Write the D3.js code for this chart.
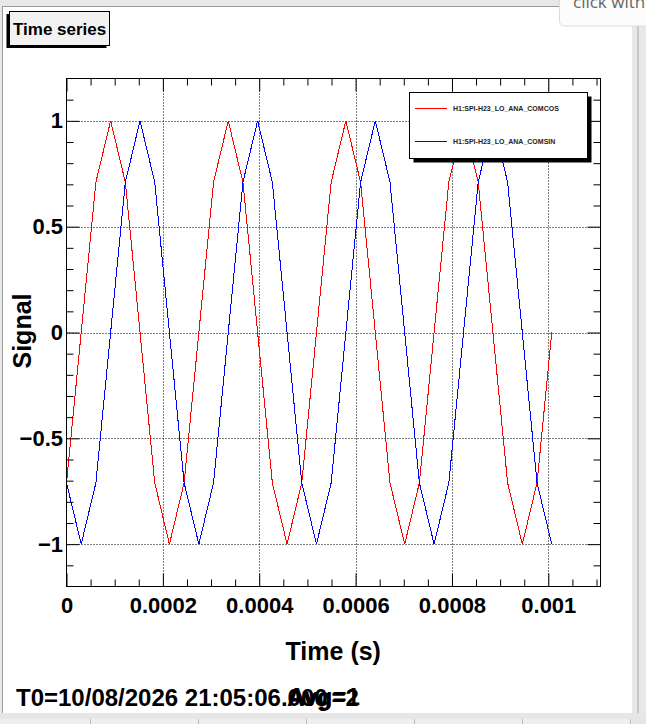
<!DOCTYPE html>
<html>
<head>
<meta charset="utf-8">
<script src="https://cdn.jsdelivr.net/npm/d3@7"></script>
<style>
  html, body { margin: 0; padding: 0; background: #e8e8e8; overflow: hidden; }
  svg { display: block; }
  text { font-family: "Liberation Sans", Arial, Helvetica, sans-serif; font-weight: bold; }
</style>
</head>
<body>
<svg id="canvas" width="646" height="724"></svg>
<script>
// sample times (s)
const times = [
  0, 0.0000305, 0.0000610, 0.0000916, 0.0001221, 0.0001526, 0.0001831, 0.0002136,
  0.0002441, 0.0002747, 0.0003052, 0.0003357, 0.0003662, 0.0003967, 0.0004272, 0.0004578,
  0.0004883, 0.0005188, 0.0005493, 0.0005798, 0.0006104, 0.0006409, 0.0006714, 0.0007019,
  0.0007324, 0.0007629, 0.0007935, 0.0008240, 0.0008545, 0.0008850, 0.0009155, 0.0009460,
  0.0009766, 0.0010071
];
const comcos = [
  -0.71, 0, 0.71, 1, 0.71, 0, -0.71, -1,
  -0.71, 0, 0.71, 1, 0.71, 0, -0.71, -1,
  -0.71, 0, 0.71, 1, 0.71, 0, -0.71, -1,
  -0.71, 0, 0.71, 1, 0.71, 0, -0.71, -1,
  -0.71, 0
];
const comsin = [
  -0.71, -1, -0.71, 0, 0.71, 1, 0.71, 0,
  -0.71, -1, -0.71, 0, 0.71, 1, 0.71, 0,
  -0.71, -1, -0.71, 0, 0.71, 1, 0.71, 0,
  -0.71, -1, -0.71, 0, 0.71, 1, 0.71, 0,
  -0.71, -1
];
const seriesNames  = ["H1:SPI-H23_LO_ANA_COMCOS", "H1:SPI-H23_LO_ANA_COMSIN"];
const seriesColors = ["#ff0000", "#0000ff"];

const xMajor = [0, 0.0002, 0.0004, 0.0006, 0.0008, 0.001];
const xMinor = [0.00005, 0.0001, 0.00015, 0.00025, 0.0003, 0.00035, 0.00045, 0.0005, 0.00055,
                0.00065, 0.0007, 0.00075, 0.00085, 0.0009, 0.00095, 0.00105, 0.0011];
const yMajor = [-1, -0.5, 0, 0.5, 1];
const yMinor = [-1.1, -0.9, -0.8, -0.7, -0.6, -0.4, -0.3, -0.2, -0.1,
                0.1, 0.2, 0.3, 0.4, 0.6, 0.7, 0.8, 0.9, 1.1];

const svg = d3.select("#canvas");

// frame box
const fx0 = 66.5, fx1 = 600.5, fy0 = 78.5, fy1 = 586.5;

const x = d3.scaleLinear().domain([0, 0.0011083]).range([fx0, fx1]);
const y = d3.scaleLinear().domain([-1.2, 1.2]).range([fy1, fy0]);

const fmt = d => d === 0 ? "0" : String(d).replace("-", "\u2212");

// --- window chrome ---
svg.append("rect").attr("x", 3).attr("y", 6.5).attr("width", 629).attr("height", 707).attr("fill", "#fff");
svg.append("line").attr("x1", 2.5).attr("x2", 2.5).attr("y1", 6).attr("y2", 713).attr("stroke", "#9a9a9a");
svg.append("line").attr("x1", 2).attr("x2", 632).attr("y1", 6.5).attr("y2", 6.5).attr("stroke", "#9a9a9a");
svg.append("rect").attr("x", 637).attr("y", 0).attr("width", 2).attr("height", 713).attr("fill", "#c6c6c6");
svg.append("rect").attr("x", 0).attr("y", 713).attr("width", 646).attr("height", 11).attr("fill", "#e6e6e6");
svg.append("rect").attr("x", 0).attr("y", 719).attr("width", 632).attr("height", 5).attr("fill", "#efefef");
svg.selectAll("line.btn")
  .data([90, 198, 306, 414, 522, 630]).enter().append("line")
    .attr("x1", d => d + 0.5).attr("x2", d => d + 0.5)
    .attr("y1", 719).attr("y2", 724)
    .attr("stroke", "#b8b8b8");

// tooltip hint in top-right corner
svg.append("rect")
  .attr("x", 559.5).attr("y", -10).attr("width", 100).attr("height", 36).attr("rx", 5)
  .attr("fill", "#fcfcfc").attr("stroke", "#dcdcdc");
svg.append("text")
  .attr("x", 573).attr("y", 8)
  .style("font-family", "'Open Sans', 'Noto Sans', sans-serif")
  .style("font-weight", "normal").style("font-size", "17px")
  .attr("fill", "#666")
  .text("click with");

// --- title box ---
svg.append("rect").attr("x", 6.5).attr("y", 14).attr("width", 100).attr("height", 34).attr("fill", "#000");
svg.append("rect").attr("x", 9.5).attr("y", 11.5).attr("width", 100).attr("height", 34)
  .attr("fill", "#f2f2f2").attr("stroke", "#000");
svg.append("text").attr("x", 13).attr("y", 35).style("font-size", "17px").text("Time series");

// --- grid ---
const plot = svg.append("g");
plot.selectAll("line.gx")
  .data(xMajor.filter(d => d > 0)).enter().append("line")
    .attr("x1", d => Math.round(x(d)) + 0.5).attr("x2", d => Math.round(x(d)) + 0.5)
    .attr("y1", fy0).attr("y2", fy1)
    .attr("stroke", "#000").attr("stroke-dasharray", "1,2");
plot.selectAll("line.gy")
  .data(yMajor).enter().append("line")
    .attr("y1", d => Math.round(y(d)) + 0.5).attr("y2", d => Math.round(y(d)) + 0.5)
    .attr("x1", fx0).attr("x2", fx1)
    .attr("stroke", "#000").attr("stroke-dasharray", "1,2");

// --- series ---
const line = d3.line().x(d => x(d[0])).y(d => y(d[1]));
[comcos, comsin].forEach((vals, i) => {
  plot.append("path")
    .datum(times.map((t, k) => [t, vals[k]]))
    .attr("d", line)
    .attr("fill", "none")
    .attr("stroke", seriesColors[i])
    .attr("stroke-width", 1)
    .attr("shape-rendering", "crispEdges");
});

// --- legend ---
const leg = svg.append("g");
leg.append("rect").attr("x", 413.5).attr("y", 96.5).attr("width", 178).attr("height", 66).attr("fill", "#000");
leg.append("rect").attr("x", 409.5).attr("y", 92.5).attr("width", 178).attr("height", 66)
  .attr("fill", "#fff").attr("stroke", "#000");
seriesNames.forEach((name, i) => {
  const ly = 108.5 + i * 33;
  leg.append("line").attr("x1", 415).attr("x2", 447).attr("y1", ly).attr("y2", ly)
    .attr("stroke", seriesColors[i]);
  leg.append("text").attr("x", 453).attr("y", ly + 2.5).style("font-size", "7px")
    .attr("fill", "#222").text(name);
});

// --- axes (ROOT style: ticks inside frame on all four sides) ---
function styleAxis(g) {
  g.select(".domain").remove();
  g.selectAll(".tick line").attr("stroke", "#000");
  g.selectAll(".tick text").attr("fill", "#000").style("font-family", null);
}

svg.append("g").attr("transform", `translate(0,${fy1})`)
  .call(d3.axisBottom(x).tickValues(xMajor).tickSize(-13).tickPadding(10.5).tickFormat(fmt))
  .call(styleAxis)
  .selectAll("text").style("font-size", "22px");
svg.append("g").attr("transform", `translate(0,${fy1})`)
  .call(d3.axisBottom(x).tickValues(xMinor).tickSize(-7).tickFormat(""))
  .call(styleAxis);
svg.append("g").attr("transform", `translate(0,${fy0})`)
  .call(d3.axisTop(x).tickValues(xMajor).tickSize(-13).tickFormat(""))
  .call(styleAxis);
svg.append("g").attr("transform", `translate(0,${fy0})`)
  .call(d3.axisTop(x).tickValues(xMinor).tickSize(-7).tickFormat(""))
  .call(styleAxis);

svg.append("g").attr("transform", `translate(${fx0},0)`)
  .call(d3.axisLeft(y).tickValues(yMajor).tickSize(-13).tickPadding(3.5).tickFormat(fmt))
  .call(styleAxis)
  .selectAll("text").style("font-size", "22px");
svg.append("g").attr("transform", `translate(${fx0},0)`)
  .call(d3.axisLeft(y).tickValues(yMinor).tickSize(-7).tickFormat(""))
  .call(styleAxis);
svg.append("g").attr("transform", `translate(${fx1},0)`)
  .call(d3.axisRight(y).tickValues(yMajor).tickSize(-13).tickFormat(""))
  .call(styleAxis);
svg.append("g").attr("transform", `translate(${fx1},0)`)
  .call(d3.axisRight(y).tickValues(yMinor).tickSize(-7).tickFormat(""))
  .call(styleAxis);

// frame
svg.append("rect").attr("x", fx0).attr("y", fy0).attr("width", fx1 - fx0).attr("height", fy1 - fy0)
  .attr("fill", "none").attr("stroke", "#000");

// axis titles
svg.append("text").attr("x", (fx0 + 600) / 2).attr("y", 660).attr("text-anchor", "middle")
  .style("font-size", "25px").text("Time (s)");
svg.append("text").attr("transform", "translate(31,331) rotate(-90)").attr("text-anchor", "middle")
  .style("font-size", "25px").text("Signal");

// footer labels (overlap as in the source canvas)
svg.append("text").attr("x", 16).attr("y", 706).style("font-size", "24px").text("T0=10/08/2026 21:05:06.000");
svg.append("text").attr("x", 287).attr("y", 706).style("font-size", "24px").text("Avg=2");
svg.append("text").attr("x", 288).attr("y", 705).style("font-size", "24px").text("Avg=1");
</script>
</body>
</html>
